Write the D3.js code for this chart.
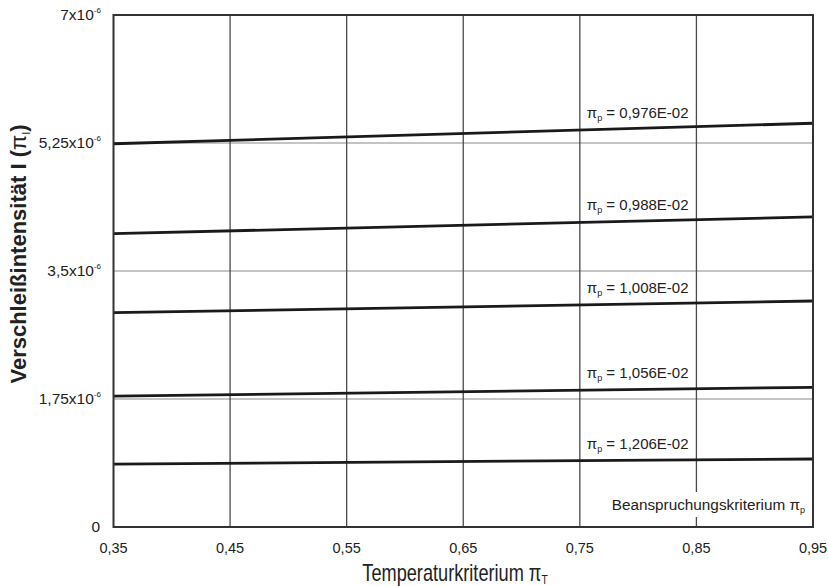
<!DOCTYPE html>
<html>
<head>
<meta charset="utf-8">
<script src="https://cdn.jsdelivr.net/npm/d3@7"></script>
<style>
  html, body { margin: 0; padding: 0; background: #fff; }
  svg text { font-family: "Liberation Sans", Arial, Helvetica, sans-serif; fill: #222; }
</style>
</head>
<body>
<svg id="chart" width="828" height="586"></svg>
<script>
// ---- data ----
const piPLabels = ["0,976E-02", "0,988E-02", "1,008E-02", "1,056E-02", "1,206E-02"];
const tempRange = [0.35, 0.95];
const wearAtStart = [5.24e-6, 4.01e-6, 2.93e-6, 1.79e-6, 0.86e-6];
const wearAtEnd   = [5.52e-6, 4.24e-6, 3.09e-6, 1.91e-6, 0.93e-6];
const xTicks = [0.35, 0.45, 0.55, 0.65, 0.75, 0.85, 0.95];
const xTickLabels = ["0,35", "0,45", "0,55", "0,65", "0,75", "0,85", "0,95"];
const yTicks = [0, 1.75e-6, 3.5e-6, 5.25e-6, 7e-6];
const yTickMantissa = ["0", "1,75x10", "3,5x10", "5,25x10", "7x10"];
const yTickExponent = ["", "-6", "-6", "-6", "-6"];
const labelAtX = 0.756;

// ---- layout ----
const svg = d3.select("#chart");
const L = 113.5, R = 813, T = 15, B = 527;
const x = d3.scaleLinear().domain([0.35, 0.95]).range([L, R]);
const y = d3.scaleLinear().domain([0, 7e-6]).range([B, T]);

// horizontal grid
svg.append("g").selectAll("line")
  .data(yTicks.filter(d => d > 0 && d < 7e-6)).join("line")
  .attr("x1", L).attr("x2", R)
  .attr("y1", d => y(d)).attr("y2", d => y(d))
  .attr("stroke", "#8a8a8a").attr("stroke-width", 1.2);

// vertical grid
svg.append("g").selectAll("line")
  .data(xTicks.slice(1, -1)).join("line")
  .attr("x1", d => x(d)).attr("x2", d => x(d))
  .attr("y1", T).attr("y2", B)
  .attr("stroke", "#4a4a4a").attr("stroke-width", 1.3);

// data lines
const series = piPLabels.map((lab, i) => ({
  lab, pts: [[tempRange[0], wearAtStart[i]], [tempRange[1], wearAtEnd[i]]]
}));
const line = d3.line().x(d => x(d[0])).y(d => y(d[1]));
svg.append("g").selectAll("path")
  .data(series).join("path")
  .attr("d", d => line(d.pts))
  .attr("fill", "none").attr("stroke", "#1a1a1a").attr("stroke-width", 2.8);

// line labels
const lab = svg.append("g").selectAll("text")
  .data(series).join("text")
  .attr("x", x(labelAtX))
  .attr("y", d => {
    const t = (labelAtX - d.pts[0][0]) / (d.pts[1][0] - d.pts[0][0]);
    return y(d.pts[0][1] + t * (d.pts[1][1] - d.pts[0][1])) - 12;
  })
  .attr("font-size", 15);
lab.append("tspan").text("π");
lab.append("tspan").attr("font-size", 9).attr("dy", 3).text("p");
lab.append("tspan").attr("dy", -3).text(d => " = " + d.lab);

// annotation box (interrupts the 0,85 grid line)
const ann = svg.append("g");
ann.append("rect").attr("x", 600).attr("y", 492).attr("width", 209).attr("height", 25).attr("fill", "#fff");
const annT = ann.append("text").attr("x", 805).attr("y", 510).attr("text-anchor", "end").attr("font-size", 15.3);
annT.append("tspan").text("Beanspruchungskriterium π");
annT.append("tspan").attr("font-size", 9).attr("dy", 3).text("p");

// frame
svg.append("rect").attr("x", L).attr("y", T).attr("width", R - L).attr("height", B - T)
  .attr("fill", "none").attr("stroke", "#333").attr("stroke-width", 2);

// x tick labels
svg.append("g").selectAll("text")
  .data(xTicks).join("text")
  .attr("x", d => x(d)).attr("y", 553)
  .attr("text-anchor", "middle").attr("font-size", 14.5)
  .text((d, i) => xTickLabels[i]);

// y tick labels
const yl = svg.append("g").selectAll("text")
  .data(yTicks).join("text")
  .attr("x", (d, i) => yTickExponent[i] ? 101 : 100).attr("y", d => y(d) + 5)
  .attr("text-anchor", "end").attr("font-size", 15.5);
yl.append("tspan").text((d, i) => yTickMantissa[i]);
yl.append("tspan").attr("font-size", 8).attr("dy", -7).text((d, i) => yTickExponent[i]);

// axis titles
const xt = svg.append("text").attr("transform", "translate(455,581) scale(0.79,1)")
  .attr("text-anchor", "middle").attr("font-size", 23);
xt.append("tspan").text("Temperaturkriterium π");
xt.append("tspan").attr("font-size", 13).attr("dy", 3).text("T");

const yt = svg.append("text").attr("transform", "translate(26,254) rotate(-90)")
  .attr("text-anchor", "middle").attr("font-size", 22).attr("font-weight", "bold");
yt.append("tspan").text("Verschleißintensität I (");
yt.append("tspan").attr("font-weight", "normal").text("π");
yt.append("tspan").attr("font-weight", "normal").attr("font-size", 11).attr("dy", 4).text("I");
yt.append("tspan").attr("dy", -4).text(")");
</script>
</body>
</html>
